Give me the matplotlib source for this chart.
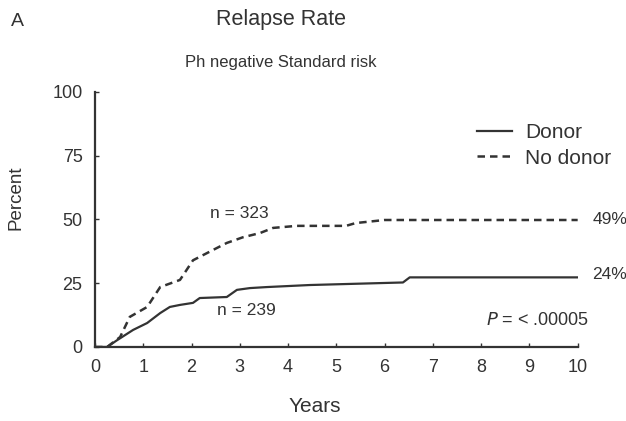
import matplotlib.pyplot as plt

plt.rcParams['font.family'] = ['Liberation Sans', 'DejaVu Sans']

# cumulative relapse
donor_years = [0, 0.25, 0.46, 0.79, 1.08, 1.35, 1.55, 1.76, 2.03, 2.17, 2.73, 2.94,
               3.21, 3.56, 4.45, 6.38, 6.52, 10]
donor_pct = [0, 0, 2.7, 6.7, 9.4, 13.3, 15.7, 16.5, 17.3, 19.2, 19.6, 22.4,
             23.1, 23.5, 24.3, 25.3, 27.3, 27.3]

nodonor_years = [0, 0.25, 0.52, 0.72, 1.08, 1.35, 1.76, 2.03, 2.44, 2.73, 3.06,
                 3.42, 3.69, 4.18, 5.2, 5.4, 6.0, 10]
nodonor_pct = [0, 0, 3.9, 11.8, 15.7, 23.5, 26.3, 34, 38, 40.8, 43,
               44.7, 46.7, 47.5, 47.5, 48.6, 49.8, 49.8]

x_ticks = list(range(0, 11))
y_ticks = [0, 25, 50, 75, 100]

ink = '#333333'

fig = plt.figure(figsize=(6.26, 4.21), dpi=100)
ax = fig.add_axes([0.1518, 0.1758, 0.771, 0.6057])

l1, = ax.plot(donor_years, donor_pct, color=ink, lw=1.6, label='Donor')
l2, = ax.plot(nodonor_years, nodonor_pct, color=ink, lw=1.8, dashes=(3, 2),
              label='No donor')

ax.set_xlim(0, 10)
ax.set_ylim(0, 100)
ax.set_xticks(x_ticks)
ax.set_yticks(y_ticks)
for s in ['top', 'right']:
    ax.spines[s].set_visible(False)
for s in ['left', 'bottom']:
    ax.spines[s].set_linewidth(1.6)
    ax.spines[s].set_color(ink)
ax.tick_params(axis='both', direction='in', length=3, width=1, colors=ink,
               labelsize=13, labelcolor=ink)
ax.tick_params(axis='x', pad=9)
ax.tick_params(axis='y', pad=9)

ax.legend(handles=[l1, l2], loc='upper left', bbox_to_anchor=(477 / 626, 1 - 123 / 421),
          bbox_transform=fig.transFigure, frameon=False, borderpad=0, borderaxespad=0,
          handlelength=1.7, handletextpad=0.6, labelspacing=0.32, fontsize=15,
          labelcolor=ink)

ax.text(10.3, 49.8, '49%', fontsize=12.5, color=ink, va='center')
ax.text(10.3, 28.5, '24%', fontsize=12.5, color=ink, va='center')
ax.text(2.38, 52.5, 'n = 323', fontsize=12.5, color=ink, va='center')
ax.text(2.53, 14.5, 'n = 239', fontsize=12.5, color=ink, va='center')
ax.text(10.23, 10.5, '$P$ = < .00005', fontsize=13, color=ink, va='center', ha='right')

fig.text(281 / 626, 1 - 19 / 421, 'Relapse Rate', fontsize=15.5, color=ink,
         ha='center', va='center')
fig.text(281 / 626, 1 - 62 / 421, 'Ph negative Standard risk', fontsize=12,
         color=ink, ha='center', va='center')
fig.text(17 / 626, 1 - 22 / 421, 'A', fontsize=14, color=ink, ha='center', va='center')
fig.text(16 / 626, 1 - 198 / 421, 'Percent', fontsize=13.5, color=ink, rotation=90,
         ha='center', va='center')
fig.text(315 / 626, 1 - 406 / 421, 'Years', fontsize=15, color=ink,
         ha='center', va='center')

fig.savefig('out.png', dpi=100)
